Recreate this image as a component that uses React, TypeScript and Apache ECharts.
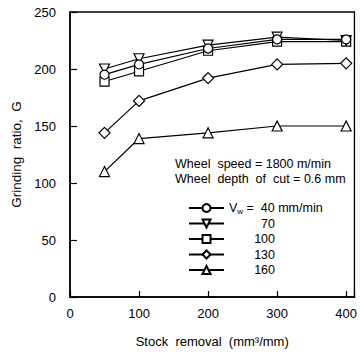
import React, { useEffect, useRef } from "react";
import * as echarts from "echarts";

const stock = [50, 100, 200, 300, 400];
const v40 = [195, 204, 218, 226, 226];
const v70 = [200, 209, 221, 228, 225];
const v100 = [189, 198, 216, 224, 224];
const v130 = [144, 172, 192, 204, 205];
const v160 = [110, 139, 144, 150, 150];
const speeds = ["40", "70", "100", "130", "160"];
const yTicks = [0, 50, 100, 150, 200, 250];
const xTicks = [0, 100, 200, 300, 400];

const FONT = "Liberation Sans, Arial, sans-serif";

export default function App() {
  const ref = useRef<HTMLDivElement>(null);
  useEffect(() => {
    if (!ref.current) return;
    const chart = echarts.init(ref.current, undefined, { renderer: "svg" });
    const seriesData = [v40, v70, v100, v130, v160];
    const symbols = ["circle", "triangle", "rect", "diamond", "triangle"];
    const rotates = [0, 180, 0, 0, 0];
    const sizes = [9, 10, 9, 11, 10];
    const series = speeds.map((s, i) => ({
      name: s,
      type: "line",
      data: stock.map((x, j) => [x, seriesData[i][j]]),
      symbol: symbols[i],
      symbolRotate: rotates[i],
      symbolSize: sizes[i],
      showAllSymbol: true,
      lineStyle: { color: "#000", width: 1.2 },
      itemStyle: { color: "#fff", borderColor: "#000", borderWidth: 1.2 },
      z: 5 - i,
    }));
    chart.setOption({
      animation: false,
      backgroundColor: "#fff",
      textStyle: { fontFamily: FONT },
      grid: {
        left: 70,
        top: 12,
        right: 5,
        bottom: 57,
        show: true,
        borderColor: "#000",
        borderWidth: 1.3,
        backgroundColor: "transparent",
      },
      xAxis: {
        type: "value",
        min: 0,
        max: 412,
        interval: 100,
        name: "Stock  removal  (mm³/mm)",
        nameLocation: "middle",
        nameGap: 38,
        nameTextStyle: { color: "#000", fontSize: 13, fontFamily: FONT },
        axisLine: { lineStyle: { color: "#000", width: 1.6 } },
        axisTick: { inside: true, length: 6, lineStyle: { color: "#000", width: 1.2 } },
        axisLabel: {
          color: "#000",
          fontSize: 13,
          margin: 10,
          formatter: (v: number) => (xTicks.includes(v) ? String(v) : ""),
        },
        splitLine: { show: false },
      },
      yAxis: {
        type: "value",
        min: 0,
        max: 250,
        interval: 50,
        name: "Grinding  ratio,  G",
        nameLocation: "middle",
        nameGap: 46,
        nameTextStyle: { color: "#000", fontSize: 13.5, fontFamily: FONT },
        axisLine: { lineStyle: { color: "#000", width: 1.6 } },
        axisTick: { inside: true, length: 7, lineStyle: { color: "#000", width: 1.2 } },
        axisLabel: {
          color: "#000",
          fontSize: 13,
          margin: 14,
          formatter: (v: number) => (yTicks.includes(v) ? String(v) : ""),
        },
        splitLine: { show: false },
      },
      legend: {
        orient: "vertical",
        left: 183,
        top: 196,
        itemWidth: 35,
        itemHeight: 10,
        itemGap: 1.5,
        selectedMode: false,
        data: speeds,
        textStyle: {
          color: "#000",
          fontSize: 12.5,
          fontFamily: FONT,
          lineHeight: 14,
          rich: {
            v: { fontSize: 12.5, color: "#000", lineHeight: 14 },
            s: { fontSize: 8, color: "#000", verticalAlign: "bottom", lineHeight: 14, padding: [5, 0, 0, 0] },
            t: { fontSize: 12.5, color: "#000", lineHeight: 14 },
            n: { fontSize: 12.5, color: "#000", width: 46, align: "right", lineHeight: 14 },
          },
        },
        formatter: (name: string) =>
          name === "40" ? "{v|V}{s|w}{t| =  40 mm/min}" : "{n|" + name + "}",
      },
      graphic: [
        {
          type: "text",
          left: 175,
          top: 157,
          style: { text: "Wheel  speed = 1800 m/min", fontSize: 12.5, fontFamily: FONT, fill: "#000" },
        },
        {
          type: "text",
          left: 175,
          top: 172,
          style: { text: "Wheel  depth  of  cut = 0.6 mm", fontSize: 12.5, fontFamily: FONT, fill: "#000" },
        },
      ],
      series,
    });
    return () => chart.dispose();
  }, []);
  return (
    <div
      ref={ref}
      style={{ position: "absolute", left: 0, top: 0, width: 360, height: 354 }}
    />
  );
}
